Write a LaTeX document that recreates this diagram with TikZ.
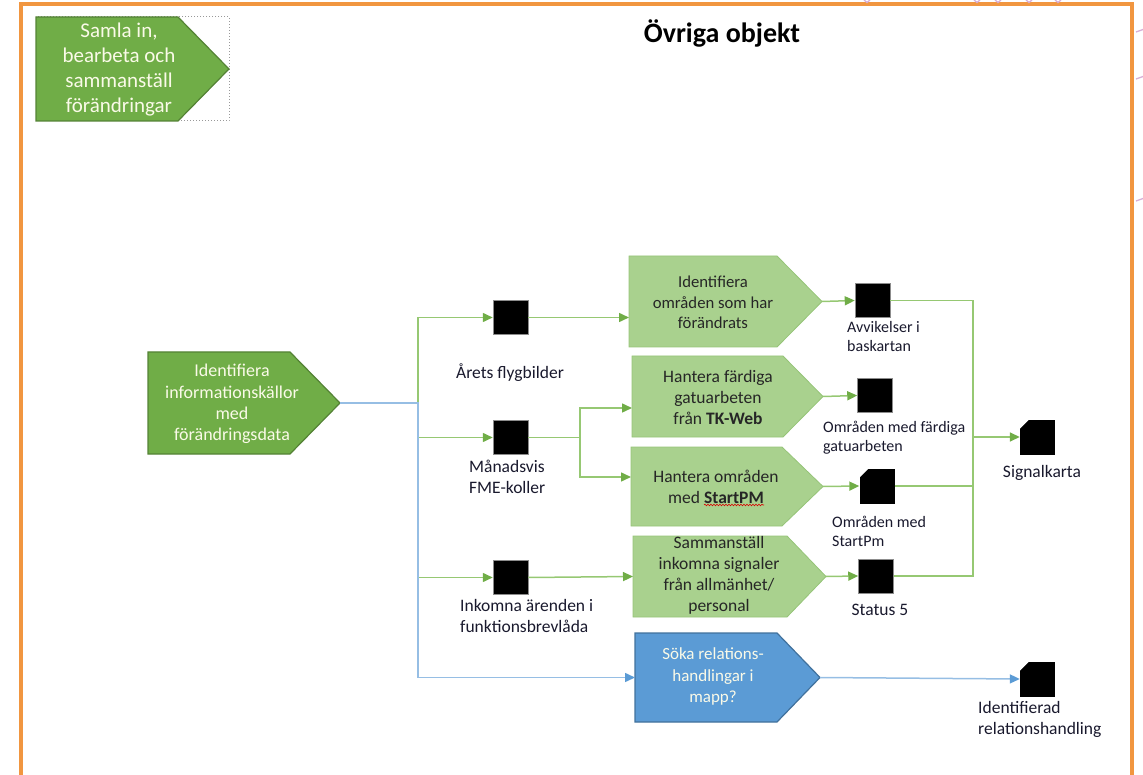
\documentclass[tikz,border=0pt]{standalone}
\usepackage{fontspec}
\setmainfont{Carlito}
\usetikzlibrary{arrows.meta,decorations.pathmorphing}

\definecolor{frameor}{RGB}{241,150,64}
\definecolor{gdark}{RGB}{112,173,71}
\definecolor{gborder}{RGB}{84,130,53}
\definecolor{glight}{RGB}{169,209,142}
\definecolor{glightb}{RGB}{150,196,120}
\definecolor{gline}{RGB}{150,200,115}
\definecolor{bfill}{RGB}{91,155,213}
\definecolor{bborder}{RGB}{65,113,156}
\definecolor{bline}{RGB}{150,190,228}
\definecolor{btip}{RGB}{91,155,213}
\definecolor{txtlight}{RGB}{250,250,232}
\definecolor{txtdark}{RGB}{38,38,38}
\definecolor{lblcol}{RGB}{25,25,45}
\definecolor{pinkmark}{RGB}{215,175,215}

% pentagon (process arrow): name, style, left x, top y, shoulder x, tip x, bottom y
\newcommand\pentshape[7]{%
  \filldraw[#2] (#3,#4) -- (#5,#4) -- (#6,{(#4+#7)/2}) -- (#5,#7) -- (#3,#7) -- cycle;
  \coordinate (#1-in) at (#3,{(#4+#7)/2});
  \coordinate (#1-tip) at (#6,{(#4+#7)/2});}

\begin{document}
\begin{tikzpicture}[x=1pt,y=-1pt,
  darkpent/.style={fill=gdark, draw=gborder, line width=1.2},
  lightpent/.style={fill=glight, draw=glightb, line width=0.8},
  bluepent/.style={fill=bfill, draw=bborder, line width=1.2},
  ptxt/.style={align=center, inner sep=0pt, font=\fontsize{17.5}{21}\selectfont},
  bigtxt/.style={align=center, inner sep=0pt, font=\fontsize{21}{25}\selectfont, text=txtlight},
  lbl/.style={align=left, inner sep=0pt, text=lblcol, font=\fontsize{17.5}{21}\selectfont},
  slbl/.style={lbl, font=\fontsize{16}{19}\selectfont},
  datasq/.style={rectangle, fill=black, draw=black!45, line width=0.5, minimum width=35pt, minimum height=34pt, inner sep=0pt},
  docsq/.style={rectangle, fill=black, draw=none, minimum width=35pt, minimum height=35pt, inner sep=0pt,
    path picture={\fill[white] (path picture bounding box.north west) -- ++(9,0) -- ++(-9,9) -- cycle;}},
  gwire/.style={draw=gline, line width=1.5},
  gconn/.style={gwire, -{Triangle[length=10pt,width=9pt,color=gdark]}},
  bconn/.style={draw=bline, line width=1.5, -{Triangle[length=10pt,width=9pt,color=btip]}}
]
\useasboundingbox (0,0) rectangle (1143,775);

% frame and cut-off marks beyond it
\draw[frameor, line width=4] (21,800) -- (21,4) -- (1132,4) -- (1132,800);
\foreach \px in {867,977,998,1029,1058}
  \draw[pinkmark, line width=1.3] (\px-3,0) -- (\px,2.5) -- (\px+3,0);
\foreach \py in {31,78,200}
  \draw[pinkmark, line width=1.3] (1136,\py+1) -- (1143,\py-1.5);

% phase label
\draw[black!40, dotted, line width=1] (36,17) rectangle (229,121);
\pentshape{samla}{darkpent}{36}{17}{178}{229}{121}
\node[bigtxt] (samla-t) at (119,70) {Samla in,\\bearbeta och\\sammanställ\\förändringar};

\node[font=\bfseries\fontsize{28}{32}\selectfont] (title) at (722,33) {Övriga objekt};

% processes
\pentshape{info}{darkpent}{148}{352}{290}{340}{454}
\node[ptxt, text=txtlight, font=\fontsize{18}{21.3}\selectfont] (info-t) at (232,404) {Identifiera\\informationskällor\\med\\förändringsdata};

\pentshape{idomr}{lightpent}{629}{256}{777}{822}{347}
\node[ptxt, text=txtdark, font=\fontsize{16.7}{20.5}\selectfont] (idomr-t) at (713,302.5) {Identifiera\\områden som har\\förändrats};

\pentshape{tk}{lightpent}{632}{356}{783}{823}{437}
\node[ptxt, text=txtdark] (tk-t) at (718,397) {Hantera färdiga\\gatuarbeten\\från \textbf{TK-Web}};

\pentshape{spm}{lightpent}{631}{447}{782}{823}{526}
\node[ptxt, text=txtdark] (spm-t) at (716,486.5) {Hantera områden\\med \textbf{StartPM}};
\draw[red!85!black, line width=0.6, decorate, decoration={snake, amplitude=0.8pt, segment length=3pt}]
  (704,505) -- (764,505);

\pentshape{samm}{lightpent}{633}{536}{787}{826}{617}
\node[ptxt, text=txtdark] (samm-t) at (719,575.5) {Sammanställ\\inkomna signaler\\från allmänhet/\\personal};

\pentshape{soka}{bluepent}{635}{633}{777}{820}{722}
\node[ptxt, text=txtlight, font=\fontsize{17}{21.5}\selectfont] (soka-t) at (713,676.5) {Söka relations-\\handlingar i\\mapp?};

% data objects
\node[datasq] (sq1) at (510.5,317.5) {};
\node[lbl, anchor=center] (sq1-l) at (510,373) {Årets flygbilder};
\node[datasq] (sq2) at (510.5,437.5) {};
\node[lbl, anchor=west] (sq2-l) at (469,476.5) {Månadsvis\\FME-koller};
\node[datasq] (sq3) at (510.5,577.5) {};
\node[lbl, anchor=west] (sq3-l) at (460,615.5) {Inkomna ärenden i\\funktionsbrevlåda};

\node[datasq] (avv) at (872.5,300.5) {};
\node[slbl, anchor=west] (avv-l) at (847,336.5) {Avvikelser i\\baskartan};
\node[datasq] (omrf) at (875,395.5) {};
\node[slbl, anchor=west] (omrf-l) at (823,437.5) {Områden med färdiga\\gatuarbeten};
\node[docsq] (omrs) at (877,486) {};
\node[slbl, anchor=west] (omrs-l) at (832,531) {Områden med\\StartPm};
\node[datasq] (stat) at (876,576) {};
\node[lbl, anchor=center] (stat-l) at (880,610) {Status 5};

\node[docsq] (sig) at (1037.5,437) {};
\node[lbl, anchor=center] (sig-l) at (1042,473) {Signalkarta};
\node[docsq] (idrel) at (1037.5,679) {};
\node[lbl, anchor=west] (idrel-l) at (978,719) {Identifierad\\relationshandling};

% junctions and entry points
\coordinate (j1) at (418,403);
\coordinate (j2) at (580,437.5);
\coordinate (j3) at (973,437);
\coordinate (idomr-e) at (629,317.5);
\coordinate (tk-e) at (632,408);
\coordinate (spm-e) at (631,477);

% green flows
\draw[gconn] (j1) |- (sq1.west);
\draw[gconn] (j1) |- (sq2.west);
\draw[gconn] (j1) |- (sq3.west);
\draw[gconn] (sq1.east) -- (idomr-e);
\draw[gconn] (sq2.east) -- (j2) |- (tk-e);
\draw[gconn] (j2) |- (spm-e);
\draw[gconn] (sq3.east) -- (samm-in);
\draw[gconn] (idomr-tip) -- (avv.west);
\draw[gconn] (tk-tip) -- (omrf.west);
\draw[gconn] (spm-tip) -- (omrs.west);
\draw[gconn] (samm-tip) -- (stat.west);
\draw[gwire] (avv.east) -| (j3);
\draw[gwire] (omrs.east) -| (j3);
\draw[gwire] (stat.east) -| (j3);
\draw[gconn] (j3) -- (sig.west);

% blue flows
\draw[bconn] (info-tip) -- (j1) |- (soka-in);
\draw[bconn] (soka-tip) -- (idrel.west);
\end{tikzpicture}
\end{document}
